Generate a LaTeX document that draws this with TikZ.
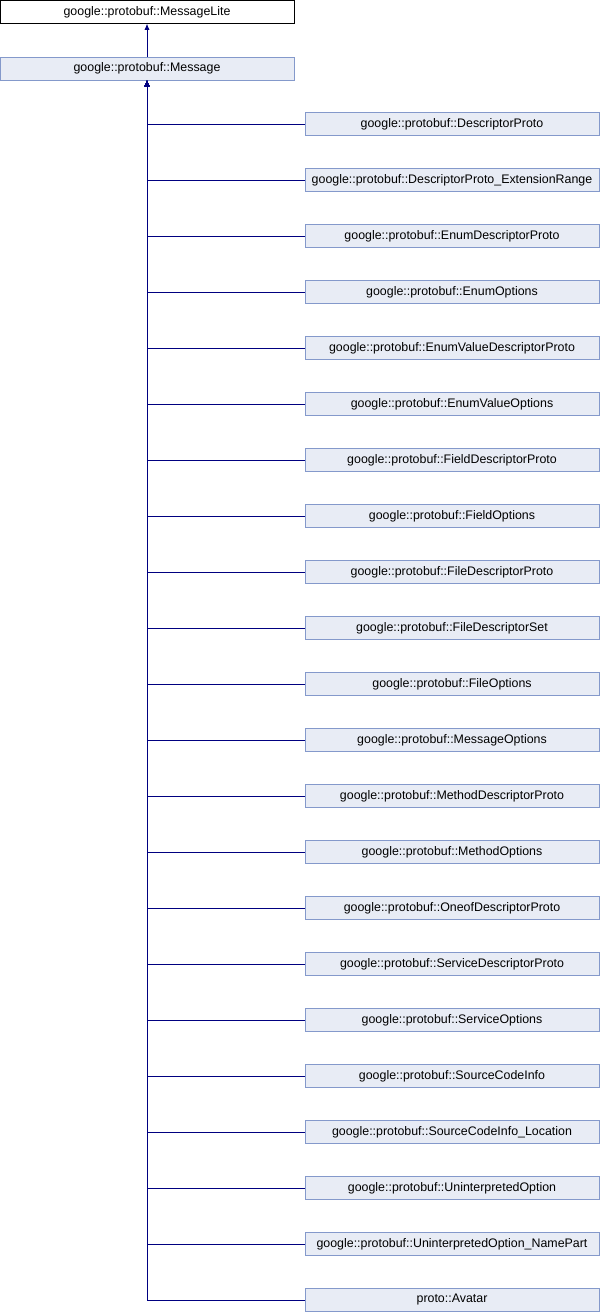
\documentclass[tikz,border=0pt]{standalone}
\usepackage{fontspec}
\setmainfont{Liberation Sans}
\usepackage{xcolor}
\usetikzlibrary{arrows.meta}

\definecolor{boxfill}{HTML}{E8ECF5}
\definecolor{boxline}{HTML}{8499CB}
\definecolor{edgeblue}{HTML}{000080}

\tikzset{
  cls/.style={draw=boxline,fill=boxfill,minimum width=220.5pt,minimum height=17.25pt,inner sep=0pt,font=\fontsize{9.3}{11}\selectfont},
  top/.style={cls,draw=black,fill=white},
  inh/.style={draw=edgeblue,line width=0.6pt,-{Latex[length=4.5pt,width=3.8pt]}}
}

\begin{document}
\begin{tikzpicture}[x=0.75pt,y=-0.75pt]
        \useasboundingbox (0,0) rectangle (600,1312);
        \node[top] (lite) at (147,12) {google::protobuf::MessageLite};
        \node[cls] (msg) at (147,68.5) {google::protobuf::Message};
        \draw[inh] (msg.north) -- (lite.south);
        % derived classes
        \foreach \name [count=\i] in {google::protobuf::DescriptorProto,
            google::protobuf::DescriptorProto\_ExtensionRange,
            google::protobuf::EnumDescriptorProto,
            google::protobuf::EnumOptions,
            google::protobuf::EnumValueDescriptorProto,
            google::protobuf::EnumValueOptions,
            google::protobuf::FieldDescriptorProto,
            google::protobuf::FieldOptions,
            google::protobuf::FileDescriptorProto,
            google::protobuf::FileDescriptorSet,
            google::protobuf::FileOptions,
            google::protobuf::MessageOptions,
            google::protobuf::MethodDescriptorProto,
            google::protobuf::MethodOptions,
            google::protobuf::OneofDescriptorProto,
            google::protobuf::ServiceDescriptorProto,
            google::protobuf::ServiceOptions,
            google::protobuf::SourceCodeInfo,
            google::protobuf::SourceCodeInfo\_Location,
            google::protobuf::UninterpretedOption,
            google::protobuf::UninterpretedOption\_NamePart,
            proto::Avatar} {
          \node[cls] (c\i) at (452,{124+56*(\i-1)}) {\name};
          \draw[inh] (c\i.west) -| (msg.south);
        }
\end{tikzpicture}
\end{document}
